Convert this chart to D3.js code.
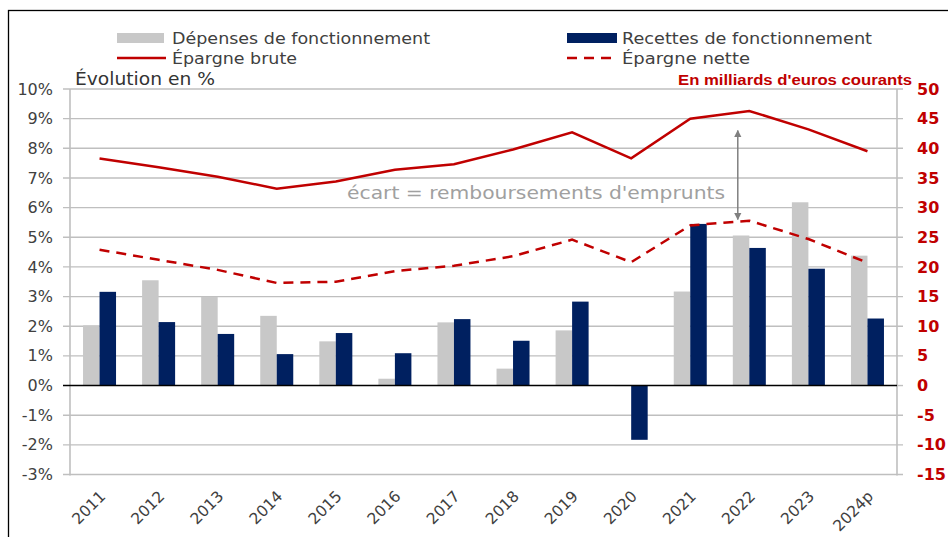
<!DOCTYPE html>
<html><head><meta charset="utf-8">
<script src="https://cdn.jsdelivr.net/npm/d3@7"></script>
<style>
html,body{margin:0;padding:0;background:#fff;}
svg{display:block;font-family:"DejaVu Sans",sans-serif;}
</style></head>
<body><svg id="c" width="948" height="537"></svg>
<script>
// ---- data ----
const years = ["2011","2012","2013","2014","2015","2016","2017","2018","2019","2020","2021","2022","2023","2024p"];
const depenses = [2.03,3.55,2.99,2.35,1.49,0.23,2.13,0.57,1.86,-0.02,3.17,5.06,6.18,4.38];
const recettes = [3.16,2.14,1.74,1.06,1.77,1.09,2.24,1.51,2.83,-1.83,5.45,4.64,3.94,2.26];
const epargneBrute = [38.3,36.8,35.2,33.2,34.4,36.4,37.3,39.8,42.7,38.3,45.0,46.3,43.2,39.5];
const epargneNette = [22.9,21.2,19.5,17.3,17.5,19.3,20.2,21.8,24.6,20.8,27.0,27.8,24.7,20.7];
const leftTicks = [-3,-2,-1,0,1,2,3,4,5,6,7,8,9,10];
const rightTicks = [-15,-10,-5,0,5,10,15,20,25,30,35,40,45,50];
const legendLabels = ["Dépenses de fonctionnement","Recettes de fonctionnement","Épargne brute","Épargne nette"];
const arrowYear = "2022", arrowFrom = 43, arrowTo = 28;
const annotation = "écart = remboursements d'emprunts";

// ---- drawing ----
const svg = d3.select("#c");
const L = 70, R = 897, T = 89, B = 474.5;
const cGray = "#c8c8c8", cNavy = "#002060", cRed = "#c00000", cText = "#404040", cGrid = "#bfbfbf";

svg.append("rect").attr("x",8.5).attr("y",10.5).attr("width",1000).attr("height",1000)
  .attr("fill","none").attr("stroke","#000").attr("stroke-width",1.3);

const x = d3.scaleBand().domain(years).range([L,R]);
const x1 = d3.scaleBand().domain(["dep","rec"]).range([0,x.bandwidth()]).paddingOuter(0.79);
const yL = d3.scaleLinear().domain([-3,10]).range([B,T]);
const yR = d3.scaleLinear().domain([-15,50]).range([B,T]);

// gridlines
svg.append("g").selectAll("line").data(leftTicks.filter(d=>d!==0)).join("line")
  .attr("x1",L-7).attr("x2",R+6).attr("y1",d=>yL(d)).attr("y2",d=>yL(d))
  .attr("stroke",cGrid).attr("stroke-width",1.4);
// axis vertical lines
svg.append("line").attr("x1",L).attr("x2",L).attr("y1",T).attr("y2",B+1).attr("stroke",cGrid).attr("stroke-width",1.6);
svg.append("line").attr("x1",R).attr("x2",R).attr("y1",T).attr("y2",B+1).attr("stroke",cGrid).attr("stroke-width",1.6);
svg.append("line").attr("x1",R).attr("x2",R+6).attr("y1",yL(0)).attr("y2",yL(0)).attr("stroke",cGrid).attr("stroke-width",1.4);

// left tick labels
svg.append("g").selectAll("text").data(leftTicks).join("text")
  .attr("x",53).attr("y",d=>yL(d)).attr("dy","0.35em").attr("text-anchor","end")
  .attr("fill",cText).attr("font-size",16).text(d=>d+"%");
// right tick labels
svg.append("g").selectAll("text").data(rightTicks).join("text")
  .attr("x",917).attr("y",d=>yR(d)).attr("dy","0.35em").attr("text-anchor","start")
  .attr("fill",cRed).attr("font-weight","bold").attr("font-size",16).text(d=>d);

// bars
const g = svg.append("g").selectAll("g").data(years).join("g").attr("transform",d=>`translate(${x(d)},0)`);
g.append("rect").attr("x",x1("dep")).attr("width",x1.bandwidth())
  .attr("y",(d,i)=>yL(Math.max(0,depenses[i]))).attr("height",(d,i)=>Math.abs(yL(depenses[i])-yL(0)))
  .attr("fill",cGray);
g.append("rect").attr("x",x1("rec")).attr("width",x1.bandwidth())
  .attr("y",(d,i)=>yL(Math.max(0,recettes[i]))).attr("height",(d,i)=>Math.abs(yL(recettes[i])-yL(0)))
  .attr("fill",cNavy);

// zero line
svg.append("line").attr("x1",L-7).attr("x2",R).attr("y1",yL(0)).attr("y2",yL(0)).attr("stroke","#000").attr("stroke-width",1.6);

// lines
const cx = d => x(d)+x.bandwidth()/2;
const line = d3.line().x((d,i)=>cx(years[i])).y(d=>yR(d));
svg.append("path").datum(epargneBrute).attr("d",line).attr("fill","none").attr("stroke",cRed).attr("stroke-width",2.5);
svg.append("path").datum(epargneNette).attr("d",line).attr("fill","none").attr("stroke",cRed).attr("stroke-width",2.5).attr("stroke-dasharray","10,7");

// annotation arrow
const defs = svg.append("defs");
defs.append("marker").attr("id","ah").attr("viewBox","0 0 10 10").attr("refX",9).attr("refY",5)
  .attr("markerWidth",5).attr("markerHeight",5).attr("orient","auto-start-reverse").attr("markerUnits","strokeWidth")
  .append("path").attr("d","M0,0L10,5L0,10z").attr("fill","#808080");
const ax = x(arrowYear) + 18;
svg.append("line").attr("x1",ax).attr("x2",ax).attr("y1",yR(arrowFrom)).attr("y2",yR(arrowTo))
  .attr("stroke","#808080").attr("stroke-width",1.5)
  .attr("marker-start","url(#ah)").attr("marker-end","url(#ah)");
svg.append("text").attr("x",347).attr("y",yL(6.5)).attr("dy","0.35em").attr("fill","#a0a0a0")
  .attr("font-size",18).attr("textLength",378).attr("lengthAdjust","spacingAndGlyphs").text(annotation);

// x labels
svg.append("g").selectAll("text").data(years).join("text")
  .attr("transform",d=>`translate(${cx(d)+3},${B+19}) rotate(-45)`)
  .attr("text-anchor","end").attr("dy","0.35em").attr("fill",cText).attr("font-size",15.5).text(d=>d);

// titles
svg.append("text").attr("x",75).attr("y",85).attr("fill","#333").attr("font-size",17)
  .attr("textLength",140).attr("lengthAdjust","spacingAndGlyphs").text("Évolution en %");
svg.append("text").attr("x",912).attr("y",85).attr("text-anchor","end").attr("fill",cRed)
  .attr("font-family","Liberation Sans, Arial, sans-serif").attr("font-weight","bold").attr("font-size",14.5)
  .attr("textLength",234).attr("lengthAdjust","spacingAndGlyphs").text("En milliards d'euros courants");

// legend
const lg = svg.append("g").attr("font-size",16.5).attr("fill",cText);
const lx = [117,567], ly = [38,58];
const lw = [258,250,125,128];
lg.append("rect").attr("x",lx[0]).attr("y",ly[0]-5).attr("width",47).attr("height",10).attr("fill",cGray);
lg.append("rect").attr("x",lx[1]).attr("y",ly[0]-5).attr("width",50).attr("height",10).attr("fill",cNavy);
lg.append("line").attr("x1",lx[0]).attr("x2",lx[0]+49).attr("y1",ly[1]).attr("y2",ly[1]).attr("stroke",cRed).attr("stroke-width",2.5);
lg.append("line").attr("x1",lx[1]).attr("x2",lx[1]+50).attr("y1",ly[1]).attr("y2",ly[1]).attr("stroke",cRed).attr("stroke-width",2.5).attr("stroke-dasharray","10,7");
[[0,0],[1,0],[0,1],[1,1]].forEach(([c,r])=>{
  const i = c+2*r;
  lg.append("text").attr("x",lx[c]+55).attr("y",ly[r]).attr("dy","0.35em")
    .attr("textLength",lw[i]).attr("lengthAdjust","spacingAndGlyphs").text(legendLabels[i]);
});
</script></body></html>
